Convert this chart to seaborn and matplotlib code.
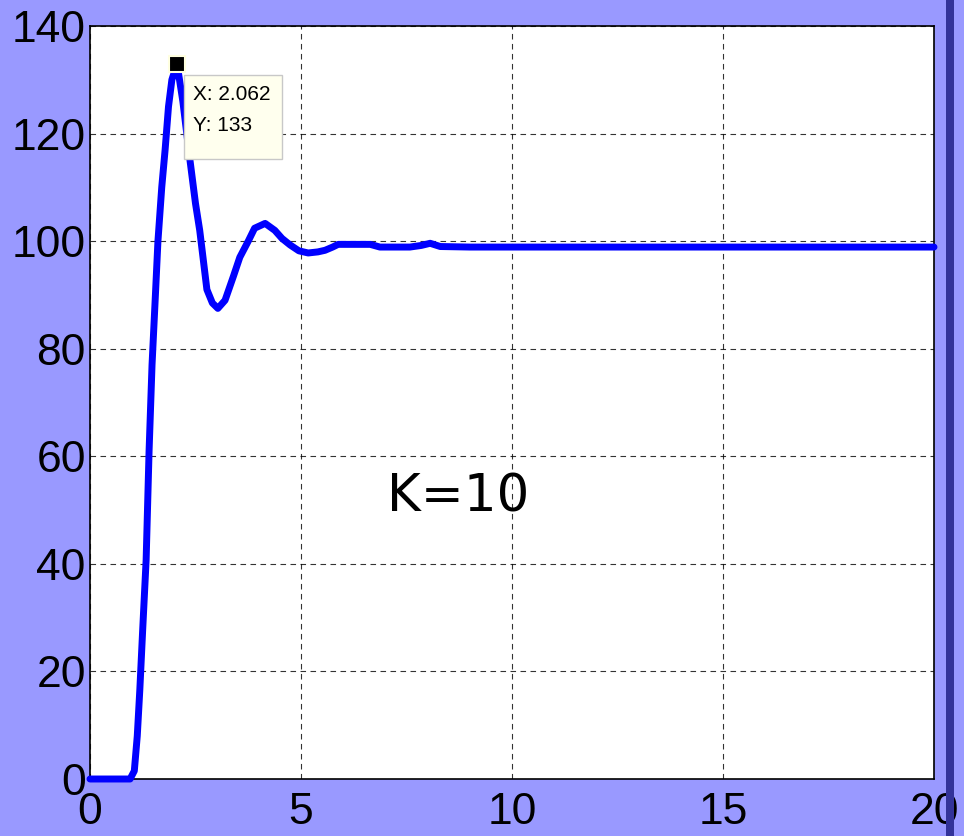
import numpy as np
import pandas as pd
import matplotlib
matplotlib.use('Agg')
import matplotlib.pyplot as plt
import matplotlib.transforms as mtransforms
import seaborn as sns
from matplotlib.patches import Rectangle

# step response
t = [0, 0.5, 0.95, 1.05, 1.12, 1.18, 1.25, 1.33, 1.40, 1.47, 1.55, 1.61, 1.70, 1.78, 1.86, 1.94,
     2.062, 2.2, 2.37, 2.5, 2.6, 2.77, 2.9, 3.03, 3.2, 3.4, 3.55, 3.75, 3.9, 4.15, 4.38, 4.55,
     4.74, 4.95, 5.17, 5.4, 5.57, 5.75, 5.88, 6.2, 6.64, 6.87, 7.2, 7.58, 7.85, 8.06, 8.3, 9, 12, 16, 20]
y = [0, 0, 0, 1.5, 8, 16.5, 28, 40.7, 61, 77, 90, 100, 110, 117, 125, 130,
     133, 126, 115, 107, 102, 91, 88.5, 87.5, 89, 93.5, 97, 100, 102.4, 103.3, 102, 100.5,
     99.3, 98.2, 97.8, 98.0, 98.3, 98.9, 99.4, 99.4, 99.4, 98.9, 98.9, 98.9, 99.2, 99.6, 99.0, 98.9, 98.9, 98.9, 98.9]

peak_x = 2.062
peak_y = 133
xticks = [0, 5, 10, 15, 20]
yticks = [0, 20, 40, 60, 80, 100, 120, 140]

df = pd.DataFrame({'t': t, 'y': y})

sns.set_style('ticks')
plt.rcParams['font.family'] = ['Liberation Sans', 'DejaVu Sans']
plt.rcParams['text.color'] = 'black'

fig = plt.figure(figsize=(9.64, 8.36), dpi=100, facecolor='#9999FF')
ax = fig.add_axes([90/964, 57/836, 844/964, 753/836])
ax.set_facecolor('white')

sns.lineplot(data=df, x='t', y='y', ax=ax, color='#0000FF', linewidth=5, clip_on=False, zorder=3)

ax.set_xlim(0, 20)
ax.set_ylim(0, 140)
ax.set_xticks(xticks)
ax.set_yticks(yticks)
ax.set_xlabel('')
ax.set_ylabel('')
ax.tick_params(axis='both', labelsize=32, length=0, colors='black')
ax.tick_params(axis='x', pad=9)
ax.tick_params(axis='y', pad=3)
ax.grid(True, color='black', linestyle=(0, (5, 4)), linewidth=0.8, alpha=0.8)
ax.set_axisbelow(True)
for s in ax.spines.values():
    s.set_visible(True)
    s.set_color('black')
    s.set_linewidth(1.2)

# data tip: box anchored at the peak, sized in inches
ax.plot([peak_x], [peak_y], marker='s', markersize=11, color='black',
        markeredgecolor='#FFFFE0', markeredgewidth=1.5, zorder=6, clip_on=False)
tip = fig.dpi_scale_trans + mtransforms.ScaledTranslation(peak_x, peak_y, ax.transData)
ax.add_artist(Rectangle((0.07, -0.95), 0.98, 0.84, transform=tip, facecolor='#FFFFEE',
                        edgecolor='#C8C8C8', linewidth=1, zorder=5, clip_on=False))
ax.text(0.16, -0.215, 'X: 2.062\nY: 133', transform=tip, ha='left', va='top',
        fontsize=15, linespacing=1.78, zorder=5.5, color='black')

ax.text(8.72, 52.4, 'K=10', fontsize=37, family='DejaVu Sans', color='black', ha='center', va='center')

# dark strip on the right
fig.add_artist(Rectangle((946/964, 0), 8/964, 1, transform=fig.transFigure,
                         facecolor='#333399', edgecolor='none'))

fig.savefig('out.png', dpi=100, facecolor=fig.get_facecolor())
